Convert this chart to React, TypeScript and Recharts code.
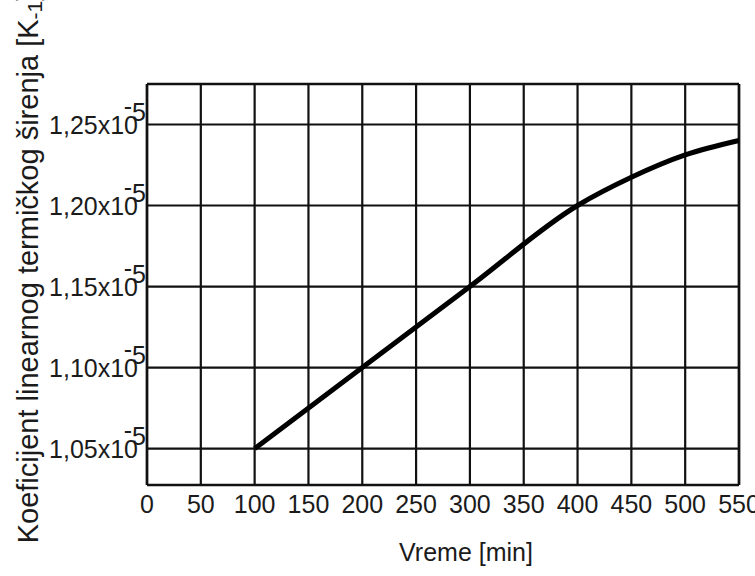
import {
  LineChart,
  Line,
  XAxis,
  YAxis,
  CartesianGrid,
  ReferenceLine,
  Label,
} from "recharts";

// time in minutes
const timeMin = [100, 200, 300, 400, 450, 500, 550];
// coefficient, in units of 10^-5 K^-1
const coef = [1.05, 1.1, 1.15, 1.2, 1.2174, 1.2312, 1.2401];

const xTicks = [0, 50, 100, 150, 200, 250, 300, 350, 400, 450, 500, 550];
const yTicks = [1.05, 1.1, 1.15, 1.2, 1.25];
const yDomain: [number, number] = [1.0275, 1.275];

const data = timeMin.map((t, i) => ({ t, k: coef[i] }));

const font = '"Liberation Sans", Arial, sans-serif';
const ink = "#1b1b1b";

const XTick = ({ x, y, payload }: { x: number; y: number; payload: { value: number } }) => (
  <text x={x} y={y + 28} textAnchor="middle" fontSize={25} fontFamily={font} fill={ink}>
    {payload.value}
  </text>
);

// label like 1,25x10 with the exponent -5 raised over the last digit
const YTick = ({ x, y, payload }: { x: number; y: number; payload: { value: number } }) => (
  <g>
    <text x={x - 9} y={y + 9} textAnchor="end" fontSize={25} fontFamily={font} fill={ink}>
      {payload.value.toFixed(2).replace(".", ",") + "x10"}
    </text>
    <text x={x - 1} y={y - 4} textAnchor="end" fontSize={25} fontFamily={font} fill={ink}>
      <tspan dy={-6}>-</tspan>
      <tspan dy={6}>5</tspan>
    </text>
  </g>
);

const YTitle = () => (
  <text
    x={38}
    y={268}
    transform="rotate(-90 38 268)"
    textAnchor="middle"
    fontSize={29}
    fontFamily={font}
    fill={ink}
  >
    Koeficijent linearnog termičkog širenja [K
    <tspan fontSize={21} dy={4}>-1</tspan>
    <tspan dy={-4}>]</tspan>
  </text>
);

const XTitle = () => (
  <text x={466} y={561} textAnchor="middle" fontSize={25} fontFamily={font} fill={ink}>
    Vreme [min]
  </text>
);

export default function App() {
  return (
    <div style={{ position: "absolute", left: 0, top: 0, width: 755, height: 576, background: "#fff" }}>
      <LineChart width={755} height={576} data={data} margin={{ top: 84, right: 16, bottom: 0, left: 0 }}>
        <CartesianGrid stroke="#111" strokeWidth={2.2} />
        <XAxis
          dataKey="t"
          type="number"
          domain={[0, 550]}
          ticks={xTicks}
          interval={0}
          height={91}
          axisLine={false}
          tickLine={false}
          tickSize={0}
          tickMargin={0}
          tick={XTick}
        >
          <Label content={XTitle} />
        </XAxis>
        <YAxis
          type="number"
          domain={yDomain}
          ticks={yTicks}
          interval={0}
          width={147}
          allowDataOverflow
          axisLine={false}
          tickLine={false}
          tickSize={0}
          tickMargin={0}
          tick={YTick}
        >
          <Label content={YTitle} />
        </YAxis>
        <ReferenceLine y={yDomain[1]} stroke="#111" strokeWidth={2.6} />
        <ReferenceLine y={yDomain[0]} stroke="#111" strokeWidth={2.6} />
        <ReferenceLine x={0} stroke="#111" strokeWidth={2.6} />
        <ReferenceLine x={550} stroke="#111" strokeWidth={2.6} />
        <Line
          type="monotone"
          dataKey="k"
          stroke="#000"
          strokeWidth={5}
          dot={false}
          isAnimationActive={false}
        />
      </LineChart>
    </div>
  );
}
